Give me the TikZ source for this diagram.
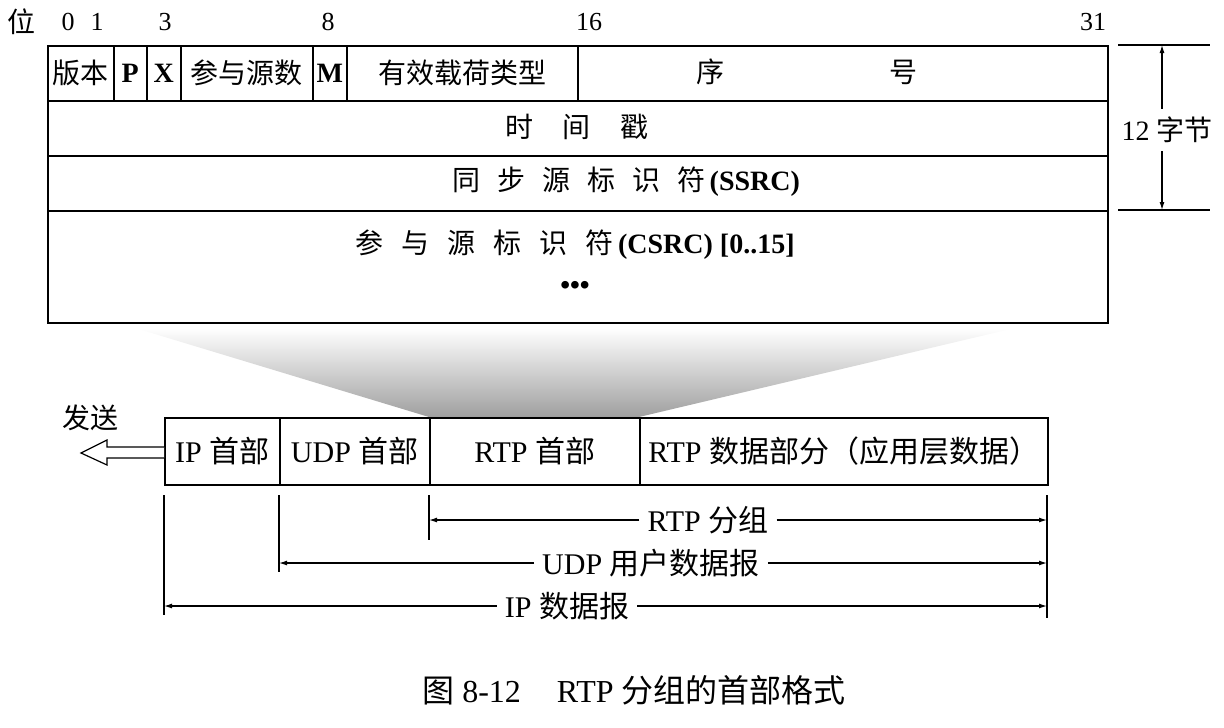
\documentclass[tikz,border=0pt]{standalone}
\usepackage{fontspec}
\setmainfont{Liberation Serif}
\newfontfamily\cjk{Noto Sans CJK SC}
\usetikzlibrary{arrows.meta}
\newcommand\zh[1]{{\cjk\mdseries #1}}
\newcommand\fs[1]{\fontsize{#1}{#1}\selectfont}

\begin{document}
\begin{tikzpicture}[x=1pt,y=-1pt,
  every node/.style={font=\fs{28}, inner sep=0pt},
  hdr/.style={font=\fs{28}\bfseries},
  big/.style={font=\fs{30}},
  cell/.style={draw, line width=1.5pt, anchor=north west, inner sep=0pt},
  bitno/.style={font=\fs{26}},
  tick/.style={line width=1.2pt},
  span/.style={line width=1.2pt, -{Latex[length=8pt,width=5pt]}},
  lbl/.style={fill=white, inner xsep=8pt},
]
\useasboundingbox (0,0) rectangle (1224,728);

% shaded funnel from the header table down to the RTP header field
\shade[top color=white, bottom color=gray!75]
  (135,328) -- (1015,328) -- (639,417) -- (429,417) -- cycle;

% bit positions
\node (wei) at (22,22) {\zh{位}};
\node[bitno] (b0) at (68,22) {0};
\node[bitno] (b1) at (97,22) {1};
\node[bitno] (b3) at (165,22) {3};
\node[bitno] (b8) at (328,22) {8};
\node[bitno] (b16) at (589,22) {16};
\node[bitno] (b31) at (1093,22) {31};

% first 32-bit word
\node[cell, minimum width=66, minimum height=55] (ver) at (47,45) {};
\node[cell, minimum width=33, minimum height=55] (pad) at (113,45) {};
\node[cell, minimum width=34, minimum height=55] (ext) at (146,45) {};
\node[cell, minimum width=132, minimum height=55] (cc) at (180,45) {};
\node[cell, minimum width=34, minimum height=55] (mk) at (312,45) {};
\node[cell, minimum width=231, minimum height=55] (pt) at (346,45) {};
\node[cell, minimum width=530, minimum height=55] (seq) at (577,45) {};
\node (tver) at (ver.center) {\zh{版本}};
\node[hdr] (tpad) at (pad.center) {P};
\node[hdr] (text) at (ext.center) {X};
\node (tcc) at (cc.center) {\zh{参与源数}};
\node[hdr] (tmk) at (mk.center) {M};
\node (tpt) at (pt.center) {\zh{有效载荷类型}};
\node (tseq) at (807,72) {\zh{序}\hspace{165pt}\zh{号}};

% remaining words
\node[cell, minimum width=1060, minimum height=55] (ts) at (47,100) {};
\node[cell, minimum width=1060, minimum height=55] (ssrc) at (47,155) {};
\node[cell, minimum width=1060, minimum height=112] (csrc) at (47,210) {};
\node (tts) at (577,127) {\zh{时}\hspace{30pt}\zh{间}\hspace{30pt}\zh{戳}};
\node[hdr] (tssrc) at (626,182) {\zh{同}\hspace{17pt}\zh{步}\hspace{17pt}\zh{源}\hspace{17pt}\zh{标}\hspace{17pt}\zh{识}\hspace{17pt}\zh{符}\,(SSRC)};
\node[hdr] (tcsrc) at (575,245) {\zh{参}\hspace{18pt}\zh{与}\hspace{18pt}\zh{源}\hspace{18pt}\zh{标}\hspace{18pt}\zh{识}\hspace{18pt}\zh{符}\,(CSRC) [0..15]};
\node[hdr] (dots) at (575,288) {\textbullet\textbullet\textbullet};

% 12-byte span
\coordinate (hTopL) at (1118,45);
\coordinate (hTopR) at (1210,45);
\coordinate (hBotL) at (1118,210);
\coordinate (hBotR) at (1210,210);
\coordinate (hTop) at (1162,45);
\coordinate (hBot) at (1162,210);
\draw[tick] (hTopL) -- (hTopR);
\draw[tick] (hBotL) -- (hBotR);
\node[lbl, inner ysep=8pt] (twelve) at (1167,130) {12 \zh{字节}};
\draw[span] (twelve.north -| hTop) -- (hTop);
\draw[span] (twelve.south -| hBot) -- (hBot);

% encapsulated packet
\node[cell, big, minimum width=115, minimum height=67] (ip) at (164,417) {IP \zh{首部}};
\node[cell, big, minimum width=150, minimum height=67] (udp) at (279,417) {UDP \zh{首部}};
\node[cell, big, minimum width=210, minimum height=67] (rtph) at (429,417) {RTP \zh{首部}};
\node[cell, big, minimum width=408, minimum height=67] (rtpd) at (639,417) {RTP \zh{数据部分（应用层数据）}};

% send arrow
\node (send) at (90,418) {\zh{发送}};
\draw[line width=1.2pt, fill=white]
  (ip.west |- 0,447) -- (107,447) -- (107,440) -- (81,453) -- (107,465)
  -- (107,458) -- (ip.west |- 0,458);

% span ticks
\coordinate (kIPt) at (164,495);   \coordinate (kIPb) at (164,615);
\coordinate (kUDPt) at (279,495);  \coordinate (kUDPb) at (279,572);
\coordinate (kRTPt) at (429,495);  \coordinate (kRTPb) at (429,540);
\coordinate (kEndt) at (1047,495); \coordinate (kEndb) at (1047,618);
\draw[tick] (kIPt) -- (kIPb);
\draw[tick] (kUDPt) -- (kUDPb);
\draw[tick] (kRTPt) -- (kRTPb);
\draw[tick] (kEndt) -- (kEndb);

% span labels and arrows
\node[lbl, big] (lrtp) at (708,520) {RTP \zh{分组}};
\node[lbl, big] (ludp) at (651,563) {UDP \zh{用户数据报}};
\node[lbl, big] (lip) at (567,606) {IP \zh{数据报}};
\draw[span] (lrtp.west) -- (lrtp.west -| kRTPt);
\draw[span] (lrtp.east) -- (lrtp.east -| kEndt);
\draw[span] (ludp.west) -- (ludp.west -| kUDPt);
\draw[span] (ludp.east) -- (ludp.east -| kEndt);
\draw[span] (lip.west) -- (lip.west -| kIPt);
\draw[span] (lip.east) -- (lip.east -| kEndt);

% caption
\node[font=\fs{32}] (cap) at (634,690) {\zh{图} 8-12\hspace{36pt}RTP \zh{分组的首部格式}};
\end{tikzpicture}
\end{document}
